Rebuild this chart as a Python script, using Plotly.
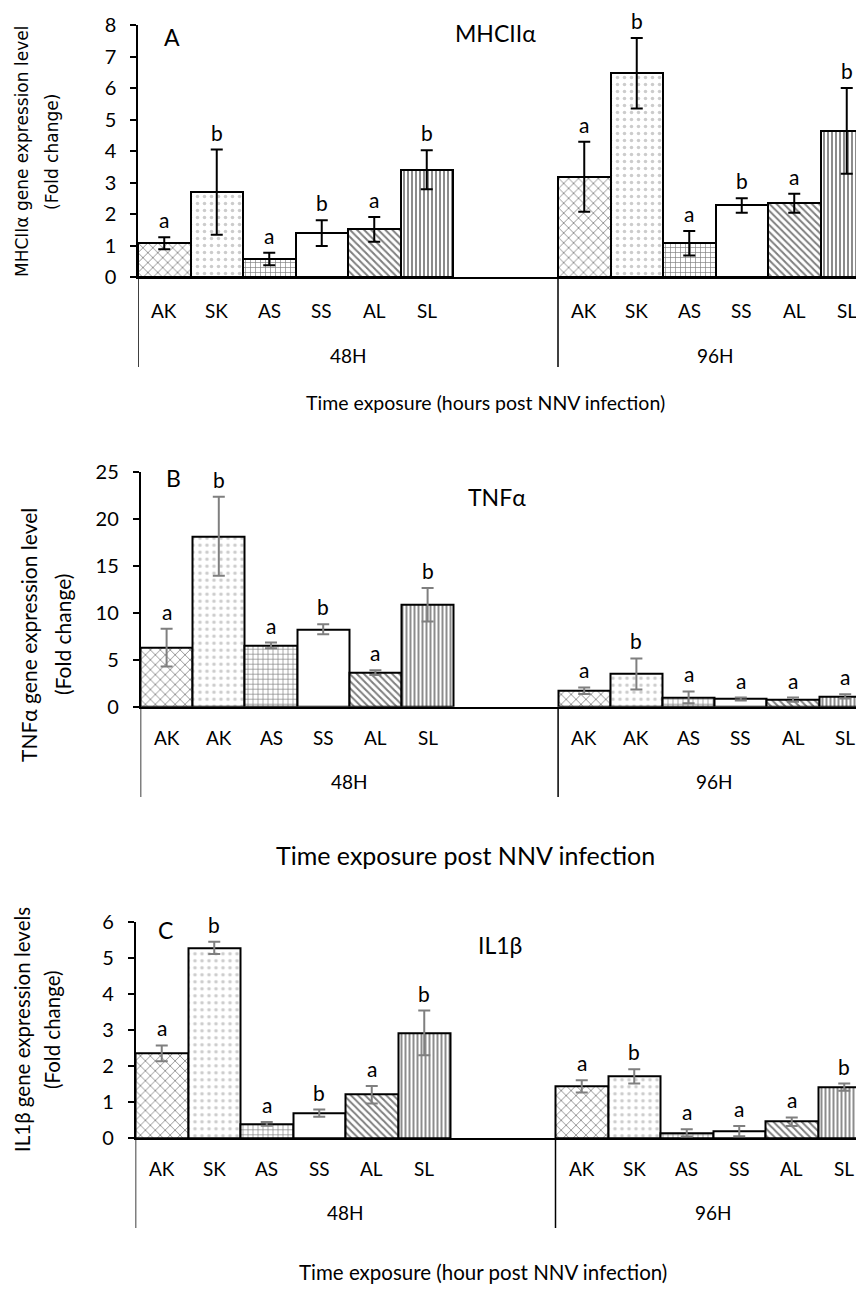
import plotly.graph_objects as go

W, H = 864, 1291
PAGE_OFF = 8  # default body margin of the html page

# ---------------- data ----------------
groups = ["48H", "96H"]
treatments = ["AK", "SK", "AS", "SS", "AL", "SL"]
tick_labels_A = ["AK", "SK", "AS", "SS", "AL", "SL"]
tick_labels_B = ["AK", "AK", "AS", "SS", "AL", "SL"]
tick_labels_C = ["AK", "SK", "AS", "SS", "AL", "SL"]

mhc_48 = [1.08, 2.70, 0.58, 1.40, 1.52, 3.41]
mhc_48_err = [0.19, 1.35, 0.20, 0.41, 0.39, 0.62]
mhc_96 = [3.19, 6.47, 1.08, 2.28, 2.35, 4.64]
mhc_96_err = [1.11, 1.12, 0.39, 0.23, 0.30, 1.36]
mhc_48_sig = ["a", "b", "a", "b", "a", "b"]
mhc_96_sig = ["a", "b", "a", "b", "a", "b"]

tnf_48 = [6.28, 18.13, 6.53, 8.23, 3.62, 10.85]
tnf_48_err = [2.00, 4.20, 0.30, 0.53, 0.25, 1.78]
tnf_96 = [1.70, 3.48, 1.00, 0.82, 0.75, 1.10]
tnf_96_err = [0.35, 1.65, 0.62, 0.15, 0.22, 0.22]
tnf_48_sig = ["a", "b", "a", "b", "a", "b"]
tnf_96_sig = ["a", "b", "a", "a", "a", "a"]

il_48 = [2.36, 5.29, 0.40, 0.70, 1.21, 2.93]
il_48_err = [0.22, 0.17, 0.05, 0.10, 0.24, 0.62]
il_96 = [1.44, 1.72, 0.15, 0.20, 0.46, 1.42]
il_96_err = [0.17, 0.20, 0.10, 0.14, 0.12, 0.10]
il_48_sig = ["a", "b", "a", "b", "a", "b"]
il_96_sig = ["a", "b", "a", "a", "a", "b"]

# ---------------- styles ----------------
patterns = {
    "AK": dict(shape="x", size=7, solidity=0.22, fgcolor="black"),
    "SK": dict(shape=".", size=7, solidity=0.2, fgcolor="#999999"),
    "AS": dict(shape="+", size=5, solidity=0.25, fgcolor="black"),
    "SS": dict(shape="", fgcolor="black"),
    "AL": dict(shape="\\", size=5, solidity=0.4, fgcolor="black"),
    "SL": dict(shape="|", size=4, solidity=0.45, fgcolor="black"),
}

SLOTS_PER_GROUP = 8
TICK_FONT = "Lato"

panels = [
    dict(key="A", v48=mhc_48, e48=mhc_48_err, v96=mhc_96, e96=mhc_96_err,
         s48=mhc_48_sig, s96=mhc_96_sig, ticks=tick_labels_A, ymax=8, dtick=1,
         err_color="black", gene="MHCIIα",
         ytitle=["MHCIIα gene expression level", "(Fold change)"],
         yt_font=("DejaVu Sans", 17),
         xtitle="Time exposure (hours post NNV infection)", xt_size=19.5, xt_x=486,
         ax_x=138, slot=52.5, y0=277.3, ytop=25,
         cat_y=310, grp_y=355, div_y=367, xt_y=403,
         yt_x=(22, 52), yt_y=152, lab_xy=(172, 37), gene_xy=(495, 33)),
    dict(key="B", v48=tnf_48, e48=tnf_48_err, v96=tnf_96, e96=tnf_96_err,
         s48=tnf_48_sig, s96=tnf_96_sig, ticks=tick_labels_B, ymax=25, dtick=5,
         err_color="#7f7f7f", gene="TNFα",
         ytitle=["TNFα gene expression level", "(Fold change)"],
         yt_font=("Lato", 21),
         xtitle="Time exposure post NNV infection", xt_size=25, xt_x=465,
         ax_x=140.5, slot=52.2, y0=706.7, ytop=471.7,
         cat_y=737, grp_y=781, div_y=797, xt_y=855,
         yt_x=(28, 62), yt_y=635, lab_xy=(173, 478), gene_xy=(497, 497)),
    dict(key="C", v48=il_48, e48=il_48_err, v96=il_96, e96=il_96_err,
         s48=il_48_sig, s96=il_96_sig, ticks=tick_labels_C, ymax=6, dtick=1,
         err_color="#7f7f7f", gene="IL1β",
         ytitle=["IL1β gene expression levels", "(Fold change)"],
         yt_font=("Lato", 20.5),
         xtitle="Time exposure (hour post NNV infection)", xt_size=20.5, xt_x=483,
         ax_x=135.5, slot=52.5, y0=1138.3, ytop=922.3,
         cat_y=1168, grp_y=1212, div_y=1228, xt_y=1272,
         yt_x=(22, 52), yt_y=1030, lab_xy=(165, 930), gene_xy=(500, 945)),
]

fig = go.Figure()
annotations = []
shapes = []


def px_x(p):
    return (p - PAGE_OFF) / W


def px_y(p):
    return 1 - (p - PAGE_OFF) / H


for i, P in enumerate(panels):
    n = i + 1
    xa = "x" if n == 1 else f"x{n}"
    ya = "y" if n == 1 else f"y{n}"
    xname = "xaxis" if n == 1 else f"xaxis{n}"
    yname = "yaxis" if n == 1 else f"yaxis{n}"

    for j, t in enumerate(treatments):
        xs = [j + g * SLOTS_PER_GROUP for g in range(len(groups))]
        ys = [P["v48"][j], P["v96"][j]]
        es = [P["e48"][j], P["e96"][j]]
        fig.add_trace(go.Bar(
            x=xs, y=ys, width=1, xaxis=xa, yaxis=ya, showlegend=False,
            marker=dict(color="white", line=dict(color="black", width=2),
                        pattern=patterns[t]),
            error_y=dict(type="data", array=es, visible=True,
                         color=P["err_color"], thickness=2, width=6),
        ))
        for g, (v, e, s) in enumerate(zip(ys, es, [P["s48"][j], P["s96"][j]])):
            annotations.append(dict(
                x=xs[g], y=v + e, xref=xa, yref=ya, text=s, showarrow=False,
                xanchor="center", yanchor="bottom", yshift=3,
                font=dict(family=TICK_FONT, size=21, color="black")))

    # plot area spans to the figure's right edge (page pixel W + PAGE_OFF)
    x_end = -0.5 + (W + PAGE_OFF - P["ax_x"]) / P["slot"]
    fig.layout[xname] = dict(
        domain=[px_x(P["ax_x"]), 1], range=[-0.5, x_end], anchor=ya,
        showline=True, linecolor="black", linewidth=2, showticklabels=False,
        ticks="", showgrid=False, zeroline=False, fixedrange=True,
        automargin=False)
    fig.layout[yname] = dict(
        domain=[px_y(P["y0"]), px_y(P["ytop"])], range=[0, P["ymax"]],
        anchor=xa, dtick=P["dtick"], showline=True, linecolor="black",
        linewidth=1.5, ticks="outside", ticklen=6, tickwidth=1.5,
        tickcolor="black", showgrid=False, zeroline=False,
        ticklabelstandoff=10, automargin=False,
        tickfont=dict(family=TICK_FONT, size=20, color="black"))

    # category tick labels
    for g, grp in enumerate(groups):
        for j, lab in enumerate(P["ticks"]):
            annotations.append(dict(
                x=j + g * SLOTS_PER_GROUP, y=px_y(P["cat_y"]), xref=xa, yref="paper",
                text=lab, showarrow=False, xanchor="center", yanchor="middle",
                font=dict(family=TICK_FONT, size=19, color="black")))
        center = g * SLOTS_PER_GROUP + (SLOTS_PER_GROUP - 1) / 2 if g == 0 else \
            g * SLOTS_PER_GROUP + (len(treatments) - 1) / 2
        annotations.append(dict(
            x=center, y=px_y(P["grp_y"]), xref=xa, yref="paper", text=grp,
            showarrow=False, xanchor="center", yanchor="middle",
            font=dict(family=TICK_FONT, size=19, color="black")))
        # group dividers
        shapes.append(dict(
            type="line", xref=xa, yref="paper",
            x0=g * SLOTS_PER_GROUP - 0.5, x1=g * SLOTS_PER_GROUP - 0.5,
            y0=px_y(P["y0"]), y1=px_y(P["div_y"]),
            line=dict(color="black", width=1.5)))

    # x title
    annotations.append(dict(
        x=px_x(P["xt_x"]), y=px_y(P["xt_y"]), xref="paper", yref="paper",
        text=P["xtitle"], showarrow=False, xanchor="center", yanchor="middle",
        font=dict(family=TICK_FONT, size=P["xt_size"], color="black")))
    # y title (two lines)
    for k, line in enumerate(P["ytitle"]):
        annotations.append(dict(
            x=px_x(P["yt_x"][k]), y=px_y(P["yt_y"]), xref="paper", yref="paper",
            text=line, showarrow=False, textangle=-90,
            xanchor="center", yanchor="middle",
            font=dict(family=P["yt_font"][0], size=P["yt_font"][1], color="black")))
    # panel letter and gene name
    annotations.append(dict(
        x=px_x(P["lab_xy"][0]), y=px_y(P["lab_xy"][1]), xref="paper", yref="paper",
        text=P["key"], showarrow=False, xanchor="center", yanchor="middle",
        font=dict(family=TICK_FONT, size=23, color="black")))
    annotations.append(dict(
        x=px_x(P["gene_xy"][0]), y=px_y(P["gene_xy"][1]), xref="paper", yref="paper",
        text=P["gene"], showarrow=False, xanchor="center", yanchor="middle",
        font=dict(family=TICK_FONT, size=23, color="black")))

fig.update_layout(
    width=W, height=H, margin=dict(l=0, r=0, t=0, b=0, pad=0, autoexpand=False),
    paper_bgcolor="white", plot_bgcolor="rgba(0,0,0,0)",
    barmode="overlay", bargap=0,
    annotations=annotations, shapes=shapes, showlegend=False,
)

fig.write_html("out.html")
